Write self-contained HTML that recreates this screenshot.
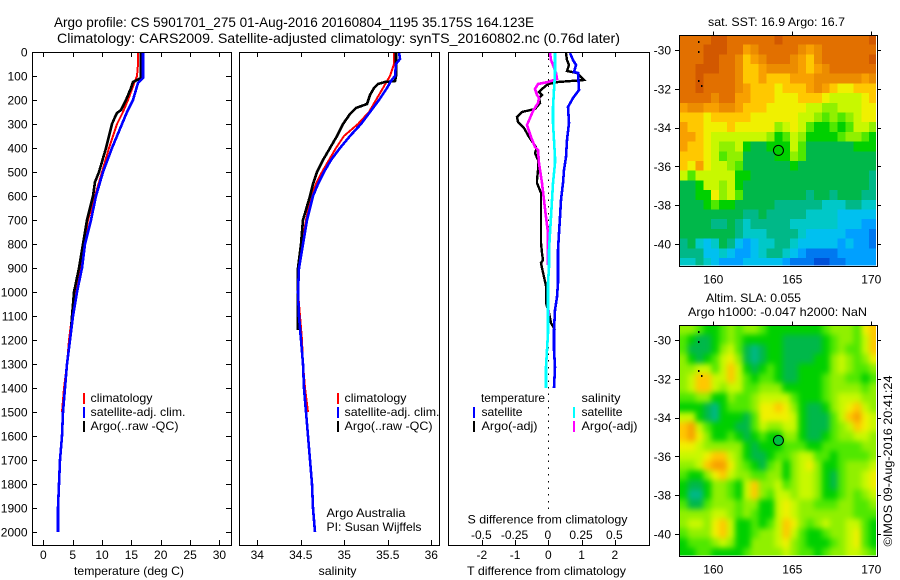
<!DOCTYPE html>
<html lang="en">
<head>
<meta charset="utf-8">
<title>Argo profile CS 5901701_275</title>
<style>
html,body{margin:0;padding:0;background:#fff;width:900px;height:580px;overflow:hidden}
svg{display:block}
text{font-family:"Liberation Sans",sans-serif;font-size:12px;fill:#000}
</style>
</head>
<body>
<svg id="chart" xmlns="http://www.w3.org/2000/svg" width="900" height="580" viewBox="0 0 900 580">
  <defs>
    <clipPath id="clip-sst"><rect x="680" y="35.5" width="196" height="230"/></clipPath>
    <clipPath id="clip-sla"><rect x="680" y="325.5" width="196" height="230"/></clipPath>
    <filter id="sla-smooth" x="-5%" y="-5%" width="110%" height="110%" color-interpolation-filters="sRGB">
      <feGaussianBlur stdDeviation="2.8"/>
      <feComponentTransfer><feFuncA type="linear" slope="30" intercept="0"/></feComponentTransfer>
    </filter>
  </defs>
  <text x="54" y="27" font-size="14" style="font-size:14px" textLength="480" lengthAdjust="spacingAndGlyphs">Argo profile: CS 5901701_275 01-Aug-2016 20160804_1195 35.175S 164.123E</text>
  <text x="57" y="43" style="font-size:14px" textLength="563" lengthAdjust="spacingAndGlyphs">Climatology: CARS2009. Satellite-adjusted climatology: synTS_20160802.nc (0.76d later)</text>
  <g id="p1"></g>
  <g id="p2"></g>
  <g id="p3"></g>
  <g id="m1"></g>
  <g id="m2"></g>
  <text x="708" y="26" textLength="137" lengthAdjust="spacingAndGlyphs">sat. SST: 16.9 Argo: 16.7</text>
  <text x="706" y="302" textLength="95" lengthAdjust="spacingAndGlyphs">Altim. SLA: 0.055</text>
  <text x="688" y="316" textLength="179" lengthAdjust="spacingAndGlyphs">Argo h1000: -0.047 h2000: NaN</text>
  <text transform="translate(892,546.5) rotate(-90)" textLength="171" lengthAdjust="spacingAndGlyphs">©IMOS 09-Aug-2016 20:41:24</text>
</svg>
<script>
const depthTicks = [0,100,200,300,400,500,600,700,800,900,1000,1100,1200,1300,1400,1500,1600,1700,1800,1900,2000];
const tempTicks = [0,5,10,15,20,25,30];
const salTicks = [34,34.5,35,35.5,36];
const salTickLabels = ['34','34.5','35','35.5','36'];
const tDiffTicks = [-2,-1,0,1,2];
const sDiffTicks = [-0.5,-0.25,0,0.25,0.5];
const sDiffLabels = ['-0.5','-0.25','0','0.25','0.5'];
const lonTicks = [160,165,170];
const latTicks = [-30,-32,-34,-36,-38,-40];

const tempClimDepth = [0,50,100,120,200,250,300,400,500,600,700,800,900,1000,1100,1200,1300,1400,1500];
const tempClimValue = [16.2,16.1,16.0,15.6,14.5,13.5,12.6,11.1,9.95,8.8,7.67,6.94,6.25,5.57,4.85,4.3,3.95,3.55,3.15];
const tempSatDepth = [0,110,130,200,250,300,400,500,600,700,800,900,1000,1100,1200,1300,1400,1500,1600,1700,1800,1900,2000];
const tempSatValue = [16.9,16.9,16.2,15.2,14.3,13.4,11.65,10.2,9.0,8.1,7.16,6.5,5.8,5.0,4.55,4.1,3.75,3.3,3.13,2.9,2.68,2.56,2.45];
const tempArgoDepth = [0,110,125,150,200,240,255,270,300,350,400,500,540,600,700,800,900,1000,1100,1158];
const tempArgoValue = [16.7,16.7,15.3,14.9,14.1,13.3,12.5,12.15,11.75,11.2,10.7,9.55,8.8,8.4,7.5,6.7,6.0,5.26,4.9,4.75];

const salClimDepth = [0,50,100,150,200,250,300,350,400,450,500,550,600,700,800,900,1000,1100,1200,1300,1400,1500];
const salClimValue = [35.57,35.57,35.52,35.45,35.36,35.28,35.16,35.0,34.9,34.82,34.74,34.68,34.62,34.56,34.51,34.48,34.47,34.49,34.51,34.53,34.55,34.58];
const salSatDepth = [0,30,50,100,120,150,200,250,300,350,400,450,500,550,600,700,800,900,1000,1100,1200,1300,1400,1500,1600,1700,1800,1900,2000];
const salSatValue = [35.63,35.64,35.59,35.58,35.54,35.49,35.4,35.29,35.19,35.07,34.95,34.85,34.77,34.7,34.64,34.57,34.52,34.48,34.47,34.48,34.5,34.52,34.54,34.56,34.58,34.605,34.625,34.64,34.66];
const salArgoDepth = [0,100,120,125,135,150,180,215,235,260,300,350,400,450,500,550,600,700,800,900,1000,1158];
const salArgoValue = [35.59,35.59,35.58,35.47,35.39,35.34,35.295,35.26,35.14,35.07,34.99,34.92,34.835,34.76,34.69,34.64,34.6,34.53,34.5,34.47,34.47,34.47];

const dTempSatDepth = [5,33,54,82,89,158,193,228,297,367,436,491,547,616,686,755,825,894,964,1019,1075,1158,1241,1311,1401];
const dTempSatValue = [0.65,0.73,0.83,0.77,0.9,0.91,0.75,0.6,0.63,0.55,0.53,0.48,0.43,0.37,0.35,0.32,0.3,0.3,0.28,0.25,0.21,0.17,0.18,0.19,0.17];
const dTempArgoDepth = [5,33,54,78,89,117,126,135,154,165,179,193,214,237,251,269,293,315,353,394,408,422,450,491,533,547,568,588,686,797,839,866,880,901,936,977,1047,1088,1130,1158];
const dTempArgoValue = [0.53,0.57,0.62,0.55,0.87,1.07,0.3,0,-0.2,-0.27,-0.2,-0.27,-0.25,-0.4,-0.8,-0.95,-0.9,-0.73,-0.57,-0.37,-0.37,-0.39,-0.32,-0.3,-0.33,-0.35,-0.27,-0.23,-0.21,-0.22,-0.18,-0.17,-0.21,-0.19,-0.12,-0.06,-0.07,0.01,0.07,0.2];
const dSalSatDepth = [5,89,158,228,297,436,464,547,616,686,755,825,894,964,1102,1172,1241,1311,1401];
const dSalSatValue = [0.053,0.048,0.045,0.038,0.033,0.05,0.053,0.038,0.028,0.02,0.013,0.008,0.005,0,0,-0.002,-0.01,-0.015,-0.015];
const dSalArgoDepth = [5,33,54,89,114,126,135,154,179,193,214,247,304,353,394,408,464,547,616,686,755,887];
const dSalArgoValue = [0.013,0.023,0.038,0.058,0.068,0,-0.075,-0.098,-0.088,-0.07,-0.075,-0.113,-0.163,-0.133,-0.1,-0.075,-0.07,-0.05,-0.035,-0.015,-0.005,-0.003];
const dSalArgoDeepDepth = [1075,1100];
const dSalArgoDeepValue = [0.008,0.008];

const sstLevels = [
[15,15,15,15,16,16,15,15,15,15,15,15,16,15,15,15,15,15,15,15,15,15,15,15,16],
[15,15,15,16,16,16,15,15,13,14,15,15,15,15,15,14,13,14,15,15,15,15,15,15,15],
[15,15,15,16,16,15,15,14,12,13,14,15,15,15,14,13,12,14,15,15,15,15,15,15,16],
[15,15,16,16,16,15,15,14,12,12,13,14,14,14,14,13,12,13,14,15,15,15,15,15,15],
[15,15,16,15,15,15,15,14,12,12,13,12,12,12,13,13,13,14,14,14,14,14,14,13,14],
[15,15,16,15,15,15,15,14,13,12,12,12,11,12,12,12,13,14,13,12,11,11,12,12,12],
[15,15,15,15,14,15,15,13,13,12,12,12,11,11,11,12,12,12,11,10,10,10,10,11,12],
[13,14,14,13,13,14,14,13,12,12,12,11,11,11,11,11,10,10,9,9,10,10,10,11,11],
[12,12,12,11,12,12,12,12,12,11,11,11,11,11,11,10,10,9,8,9,8,9,10,11,11],
[13,12,12,11,11,11,12,11,11,11,11,11,9,10,11,10,8,7,7,8,7,8,10,10,9],
[13,13,12,11,10,10,10,10,10,10,10,9,7,8,10,9,7,7,7,7,8,9,9,8,7],
[13,12,12,11,10,9,9,10,7,6,6,7,7,7,10,8,6,6,6,6,6,6,7,7,7],
[12,12,12,11,10,8,9,9,6,6,6,6,7,7,9,8,6,6,6,6,6,6,6,6,6],
[12,11,13,11,10,10,9,8,6,6,6,6,6,6,7,6,6,6,6,6,6,6,6,6,6],
[10,8,10,10,10,10,10,7,7,6,6,6,6,6,6,6,6,6,6,6,6,6,6,6,5],
[6,6,7,10,10,9,10,7,6,6,6,6,6,6,6,6,6,6,6,6,6,6,6,6,5],
[6,6,7,7,11,9,10,8,6,6,6,6,6,6,6,6,5,6,6,5,6,6,6,5,5],
[6,6,6,7,8,7,7,6,6,6,6,6,5,5,5,5,5,5,4,4,4,5,5,4,4],
[6,6,6,6,6,6,6,6,5,5,6,5,5,5,5,5,4,4,4,4,3,3,3,3,3],
[6,6,6,6,5,5,6,5,4,5,5,5,5,5,4,4,4,4,4,4,3,3,3,2,2],
[6,6,6,6,6,6,6,5,4,4,4,5,5,5,5,4,3,3,3,3,3,2,2,2,1],
[5,6,4,3,4,6,5,3,2,3,4,4,5,5,4,3,3,3,3,3,2,3,2,2,1],
[5,5,5,3,3,4,3,2,2,3,4,5,5,4,3,2,1,1,1,1,2,2,2,2,2],
[4,4,5,4,3,2,2,2,3,3,3,3,3,2,1,1,1,0,0,1,1,2,2,2,2]
];
const slaLevels = [
[9,9,8,7,7,8,9,8,9,9,8,7,7,7,7,7,7,7,8,9,9,9,8,11,12],
[8,7,6,6,7,8,9,8,7,7,7,7,7,6,6,6,6,6,7,8,9,9,8,10,12],
[8,6,6,6,7,9,10,8,6,5,6,7,7,6,6,6,6,6,7,8,9,8,8,10,12],
[9,7,6,7,8,10,11,9,6,5,6,7,7,6,6,6,6,7,7,9,10,9,8,9,11],
[9,9,10,10,8,10,12,10,7,6,7,8,7,6,6,7,7,7,7,9,10,9,8,8,9],
[9,10,12,12,10,10,12,10,8,7,8,8,7,6,6,7,7,7,8,9,9,8,8,7,8],
[9,10,12,12,10,9,10,10,8,8,9,9,9,7,7,7,7,7,8,9,9,9,9,8,9],
[8,8,9,9,7,7,9,8,8,9,10,10,10,10,8,7,7,7,8,9,10,10,10,9,9],
[7,7,7,6,5,7,8,8,8,9,11,11,12,11,9,7,6,6,7,9,10,11,12,10,9],
[10,10,7,6,5,7,7,7,6,8,11,11,11,11,10,7,6,6,6,8,10,12,13,11,10],
[12,13,10,8,7,7,7,6,6,8,10,9,9,10,10,7,6,6,6,8,9,10,12,11,10],
[12,13,11,9,7,7,8,7,6,7,8,7,7,9,9,7,6,6,7,8,9,9,10,10,9],
[11,11,10,9,9,9,9,9,7,6,7,7,7,8,8,8,7,7,8,8,8,8,8,9,9],
[10,10,10,11,12,12,10,9,7,6,6,7,8,8,9,10,10,8,8,7,8,8,8,8,9],
[9,9,10,12,13,13,11,9,8,7,6,8,9,7,9,10,11,9,7,7,8,9,9,9,10],
[8,7,7,9,11,12,10,9,9,8,8,9,9,7,9,10,10,9,7,6,8,9,9,10,11],
[7,6,6,7,9,9,8,7,10,12,9,9,10,8,9,10,10,9,7,6,8,9,9,10,11],
[7,5,5,7,9,9,8,7,10,12,9,8,10,10,9,10,10,9,7,7,8,9,8,9,10],
[8,6,6,8,9,9,9,8,9,9,7,7,10,11,10,9,9,8,8,8,9,9,8,8,9],
[9,9,9,9,10,10,9,8,9,8,7,7,10,11,10,9,9,9,9,9,9,9,8,8,8],
[9,10,10,9,11,12,10,7,7,8,7,8,10,12,11,9,8,9,10,9,9,10,10,8,7],
[8,9,9,9,11,12,10,7,7,8,9,9,10,12,10,8,7,7,8,9,9,10,11,8,7],
[7,8,8,8,9,10,9,7,7,9,9,9,10,11,9,8,7,7,7,8,9,10,11,8,7],
[7,7,8,8,7,7,7,7,8,9,9,9,9,10,9,8,8,7,8,9,9,10,10,9,8]
];
const levelColors = ['#0050d8','#0078f0','#00a0ff','#00c0f0','#00c8c8','#00b888','#00b84a','#00d000','#50e800','#90f000','#c8f800','#f0f000','#ffc800','#f8a000','#ec8c00','#e27000','#d25800'];
const islandLons = [159.05,159.02,159.06,159.25];
const islandLats = [-29.52,-30.03,-31.57,-31.78];
const floatLon = 164.123;
const floatLat = -35.175;

const NS = 'http://www.w3.org/2000/svg';
const yDepth = d => 52 + d * 0.24;
const xTemp = v => 43.4 + v * 5.867;
const xSal = v => 257.3 + (v - 34) * 87;
const xTDiff = v => 548.3 + v * 33.25;
const xSDiff = v => 548.3 + v * 133;
const xLon = v => 713.3 + (v - 160) * 15.8;
const yLatSst = v => 50 + (-30 - v) * 19.4;
const yLatSla = v => 340 + (-30 - v) * 19.4;

function make(parent, tag, attrs, text) {
  const el = document.createElementNS(NS, tag);
  for (const k in attrs) el.setAttribute(k, attrs[k]);
  if (text !== undefined) el.textContent = text;
  parent.appendChild(el);
  return el;
}
function frame(g, name, x0, x1, y0, y1) {
  const el = make(g, 'rect', {x:x0, y:y0, width:x1-x0, height:y1-y0, fill:'none', stroke:'#000', 'stroke-width':1, 'shape-rendering':'crispEdges'});
  
  
}
function tick(g, name, x1, y1, x2, y2) {
  const el = make(g, 'line', {x1:x1, y1:y1, x2:x2, y2:y2, stroke:'#000', 'stroke-width':1, 'shape-rendering':'crispEdges'});
  
  
}
function label(g, name, x, y, str, anchor, width) {
  const attrs = {x:x, y:y, 'text-anchor':anchor || 'start'};
  if (width) { attrs.textLength = width; attrs.lengthAdjust = 'spacingAndGlyphs'; }
  const el = make(g, 'text', attrs, str);
  
  
}
function series(g, name, color, values, depths, xFn, width) {
  const pts = values.map((v, i) => Math.round(xFn(v)) + ',' + Math.round(yDepth(depths[i]))).join(' ');
  const el = make(g, 'polyline', {points:pts, fill:'none', stroke:color, 'stroke-width':width, 'stroke-linejoin':'miter', 'shape-rendering':'crispEdges'});
  
  
}
function key(g, name, x, y, color) {
  const el = make(g, 'rect', {x:x, y:y, width:2, height:11, fill:color});
  
  
}

/* temperature panel */
const p1 = document.getElementById('p1');
tempTicks.forEach(v => {
  tick(p1, 'temp-tick-top', Math.round(xTemp(v))+.5, 52, Math.round(xTemp(v))+.5, 57);
  tick(p1, 'temp-tick-bottom', Math.round(xTemp(v))+.5, 540, Math.round(xTemp(v))+.5, 545);
  label(p1, 'temp-tick-label', xTemp(v), 559, String(v), 'middle');
});
depthTicks.forEach(d => {
  tick(p1, 'depth-tick-left', 32, Math.round(yDepth(d))+.5, 37, Math.round(yDepth(d))+.5);
  tick(p1, 'depth-tick-right', 226, Math.round(yDepth(d))+.5, 231, Math.round(yDepth(d))+.5);
  label(p1, 'depth-tick-label', 27.5, yDepth(d)+4.5, String(d), 'end');
});
series(p1, 'temp-climatology-line', '#ff0000', tempClimValue, tempClimDepth, xTemp, 2);
series(p1, 'temp-argo-line', '#000000', tempArgoValue, tempArgoDepth, xTemp, 2.6);
series(p1, 'temp-satellite-line', '#0000ff', tempSatValue, tempSatDepth, xTemp, 2.6);
frame(p1, 'temp-axes-box', 32.5, 231.5, 52.5, 545.5);
label(p1, 'temp-axis-title', 74, 575, 'temperature (deg C)', 'start', 110);
key(p1, 'temp-legend-climatology-key', 83, 393, '#ff0000');
key(p1, 'temp-legend-satellite-key', 83, 407, '#0000ff');
key(p1, 'temp-legend-argo-key', 83, 421, '#000000');
label(p1, 'temp-legend-climatology', 90.5, 402, 'climatology', 'start', 62);
label(p1, 'temp-legend-satellite', 90.5, 416, 'satellite-adj. clim.', 'start', 95);
label(p1, 'temp-legend-argo', 90.5, 430, 'Argo(..raw -QC)', 'start', 88);

/* salinity panel */
const p2 = document.getElementById('p2');
salTicks.forEach((v, i) => {
  tick(p2, 'sal-tick-top', Math.round(xSal(v))+.5, 52, Math.round(xSal(v))+.5, 57);
  tick(p2, 'sal-tick-bottom', Math.round(xSal(v))+.5, 540, Math.round(xSal(v))+.5, 545);
  label(p2, 'sal-tick-label', xSal(v), 559, salTickLabels[i], 'middle');
});
series(p2, 'sal-climatology-line', '#ff0000', salClimValue, salClimDepth, xSal, 2);
series(p2, 'sal-argo-line', '#000000', salArgoValue, salArgoDepth, xSal, 2.6);
series(p2, 'sal-satellite-line', '#0000ff', salSatValue, salSatDepth, xSal, 2.6);
frame(p2, 'sal-axes-box', 239.5, 439.5, 52.5, 545.5);
label(p2, 'sal-axis-title', 318.5, 575, 'salinity', 'start', 38);
key(p2, 'sal-legend-climatology-key', 337, 393, '#ff0000');
key(p2, 'sal-legend-satellite-key', 337, 407, '#0000ff');
key(p2, 'sal-legend-argo-key', 337, 421, '#000000');
label(p2, 'sal-legend-climatology', 344.5, 402, 'climatology', 'start', 62);
label(p2, 'sal-legend-satellite', 344.5, 416, 'satellite-adj. clim.', 'start', 95);
label(p2, 'sal-legend-argo', 344.5, 430, 'Argo(..raw -QC)', 'start', 88);
label(p2, 'argo-australia-note', 326.5, 517, 'Argo Australia', 'start', 79);
label(p2, 'pi-name-note', 326.5, 531, 'PI: Susan Wijffels', 'start', 95);

/* difference panel */
const p3 = document.getElementById('p3');
const zero = make(p3, 'line', {x1:548.5, y1:52, x2:548.5, y2:513, stroke:'#000', 'stroke-width':1, 'stroke-dasharray':'1.5 5.2', 'shape-rendering':'crispEdges'});


tDiffTicks.forEach(v => {
  tick(p3, 'tdiff-tick-top', Math.round(xTDiff(v))+.5, 52, Math.round(xTDiff(v))+.5, 57);
  tick(p3, 'tdiff-tick-bottom', Math.round(xTDiff(v))+.5, 540, Math.round(xTDiff(v))+.5, 545);
  label(p3, 'tdiff-tick-label', xTDiff(v), 559, String(v), 'middle');
});
sDiffTicks.forEach((v, i) => {
  label(p3, 'sdiff-tick-label', xSDiff(v) - 0.5, 539, sDiffLabels[i], 'middle');
});
series(p3, 'tdiff-argo-line', '#000000', dTempArgoValue, dTempArgoDepth, xTDiff, 2.4);
series(p3, 'tdiff-satellite-line', '#0000ff', dTempSatValue, dTempSatDepth, xTDiff, 2.6);
series(p3, 'sdiff-argo-line', '#ff00ff', dSalArgoValue, dSalArgoDepth, xSDiff, 2.6);
series(p3, 'sdiff-argo-deep-line', '#ff00ff', dSalArgoDeepValue, dSalArgoDeepDepth, xSDiff, 2);
series(p3, 'sdiff-satellite-line', '#00ffff', dSalSatValue, dSalSatDepth, xSDiff, 2.6);
frame(p3, 'diff-axes-box', 448.5, 649.5, 52.5, 545.5);
label(p3, 'legend-temperature-header', 481, 402, 'temperature', 'start', 64);
label(p3, 'legend-salinity-header', 581.5, 402, 'salinity', 'start', 39);
key(p3, 'legend-tdiff-satellite-key', 473, 407, '#0000ff');
key(p3, 'legend-tdiff-argo-key', 473, 421, '#000000');
key(p3, 'legend-sdiff-satellite-key', 573, 407, '#00ffff');
key(p3, 'legend-sdiff-argo-key', 573, 421, '#ff00ff');
label(p3, 'legend-tdiff-satellite', 481.5, 416, 'satellite', 'start', 41);
label(p3, 'legend-tdiff-argo', 481.5, 430, 'Argo(-adj)', 'start', 56);
label(p3, 'legend-sdiff-satellite', 581.5, 416, 'satellite', 'start', 41);
label(p3, 'legend-sdiff-argo', 581.5, 430, 'Argo(-adj)', 'start', 56);
label(p3, 'sdiff-axis-title', 467.5, 523.5, 'S difference from climatology', 'start', 160);
label(p3, 'tdiff-axis-title', 467, 575, 'T difference from climatology', 'start', 159);

/* maps */
function drawMap(g, prefix, levels, yLat, clipId, smooth, circleFill, boxTop, boxBottom, labelY) {
  const clip = make(g, 'g', {'clip-path':'url(#' + clipId + ')'});
  
  
  const cells = make(clip, 'g', smooth ? {filter:'url(#sla-smooth)'} : {'shape-rendering':'crispEdges'});
  levels.forEach((row, r) => {
    row.forEach((v, c) => {
      const lonW = 157.87 + c * 0.5;
      const latN = -29.22 - r * 0.5;
      const cell = make(cells, 'rect', {x:xLon(lonW), y:yLat(latN), width:xLon(lonW + 0.5) - xLon(lonW) + 0.4, height:yLat(latN - 0.5) - yLat(latN) + 0.4, fill:levelColors[Math.round(v)]});
      
      
    });
  });
  islandLons.forEach((lon, i) => {
    const isle = make(g, 'rect', {x:Math.round(xLon(lon)), y:Math.round(yLat(islandLats[i])), width:1.5, height:2, fill:'#000'});
    
    
  });
  const circle = make(g, 'circle', {cx:xLon(floatLon), cy:yLat(floatLat), r:5, fill:circleFill, stroke:'#000', 'stroke-width':1});
  
  
  frame(g, prefix + '-axes-box', 679.5, 877.5, boxTop, boxBottom);
  lonTicks.forEach(v => {
    const x = Math.round(xLon(v)) + .5;
    tick(g, prefix + '-lon-tick', x, boxTop - 4, x, boxTop);
    label(g, prefix + '-lon-label', xLon(v), labelY, String(v), 'middle');
  });
  latTicks.forEach(v => {
    const y = Math.round(yLat(v)) + .5;
    tick(g, prefix + '-lat-tick-left', 675, y, 679, y);
    tick(g, prefix + '-lat-tick-right', 878, y, 881, y);
    label(g, prefix + '-lat-label', 671, yLat(v) + 4.5, String(v), 'end');
  });
}
drawMap(document.getElementById('m1'), 'sst', sstLevels, yLatSst, 'clip-sst', false, 'none', 35.5, 266.5, 283.5);
drawMap(document.getElementById('m2'), 'sla', slaLevels, yLatSla, 'clip-sla', true, '#00c040', 325.5, 556.5, 573.5);
</script>
</body>
</html>
